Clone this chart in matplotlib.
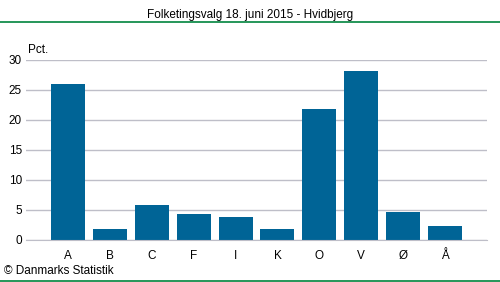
import matplotlib
matplotlib.use('Agg')
import matplotlib.pyplot as plt
from matplotlib.lines import Line2D

plt.rcParams['font.family'] = ['Liberation Sans', 'DejaVu Sans']

partier = ['A', 'B', 'C', 'F', 'I', 'K', 'O', 'V', 'Ø', 'Å']
pct = [26.0, 1.85, 5.9, 4.4, 3.9, 1.85, 21.8, 28.2, 4.7, 2.3]
yticks = [0, 5, 10, 15, 20, 25, 30]

W, H = 500, 282
fig = plt.figure(figsize=(W / 100, H / 100), dpi=100)
ax = fig.add_axes([26 / W, 1 - 240 / H, (487 - 26) / W, 180 / H])

x = range(len(partier))
ax.bar(x, pct, width=0.81, color='#006496', zorder=2)
ax.set_xlim(-1, len(partier))
ax.set_ylim(0, 30)
ax.set_yticks(yticks)
ax.set_xticks(list(x))
ax.set_xticklabels(partier)
ax.yaxis.grid(True, color='#BEBEC8', linewidth=1, zorder=0)
for s in ['top', 'right', 'left']:
    ax.spines[s].set_visible(False)
ax.spines['bottom'].set_color('#BEBEC8')
ax.tick_params(axis='both', length=0, labelsize=8.5, colors='black')
ax.tick_params(axis='x', pad=7)
ax.tick_params(axis='y', pad=3)

fig.text(0.5, 1 - 15 / H, 'Folketingsvalg 18. juni 2015 - Hvidbjerg', ha='center', va='center', fontsize=8.5)
fig.text(28 / W, 1 - 50 / H, 'Pct.', ha='left', va='center', fontsize=8.5)
fig.text(4 / W, 1 - 271 / H, '© Danmarks Statistik', ha='left', va='center', fontsize=8.5)
fig.add_artist(Line2D([0, 1], [1 - 22 / H, 1 - 22 / H], color='#00843D', linewidth=1.2, transform=fig.transFigure))
fig.add_artist(Line2D([0, 1], [1 - 281 / H, 1 - 281 / H], color='#00843D', linewidth=1.2, transform=fig.transFigure))

fig.savefig('out.png', dpi=100)
